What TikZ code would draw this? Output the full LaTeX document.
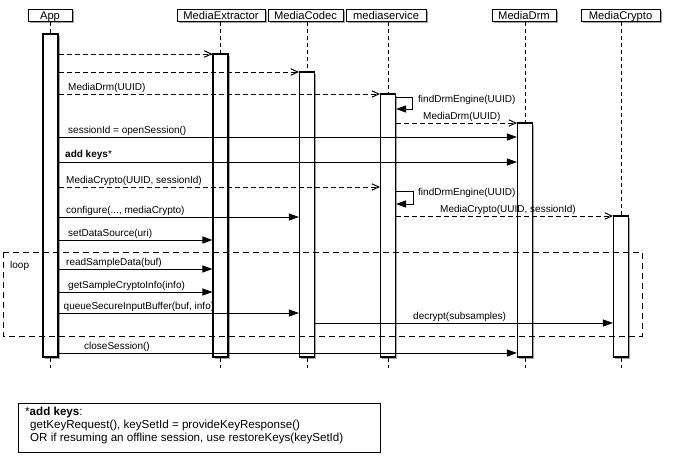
\documentclass[tikz,border=0pt]{standalone}
\usepackage{fontspec}
\setmainfont{Liberation Sans}
\usetikzlibrary{arrows.meta,shadows}
\begin{document}
\begin{tikzpicture}[x=1pt,y=-1pt,
  shade/.style={drop shadow={shadow xshift=1.8pt,shadow yshift=-1.8pt,opacity=0.35,fill=black}},
  hdr/.style={draw,line width=1pt,fill=white,inner sep=0pt,minimum height=12pt,
    text height=10pt,text depth=2pt,
    font=\fontsize{11.2}{12}\selectfont,shade},
  actbar/.style={draw,line width=1.1pt,fill=white,minimum width=15pt,inner sep=0pt,shade},
  life/.style={line width=1pt,dash pattern=on 4pt off 3pt},
  call/.style={line width=1pt,-{Triangle[length=10pt,width=7pt]}},
  ret/.style={line width=1pt,dash pattern=on 5pt off 3pt,-{Straight Barb[length=7pt,width=6.5pt]}},
  frame/.style={line width=1pt,dash pattern=on 6pt off 4pt},
  lbl/.style={font=\fontsize{10}{12}\selectfont,inner sep=0pt,anchor=base west},
  nlbl/.style={font=\fontsize{11.6}{13}\selectfont,inner sep=0pt,anchor=base west},
  notebox/.style={draw,line width=1pt,minimum width=362pt,minimum height=49pt,inner sep=0pt}
]
\useasboundingbox (0,0) rectangle (673,456);
% headers
\node[hdr,minimum width=44pt] (happ) at (50,15) {App};
\node[hdr,minimum width=88pt] (hext) at (221,15) {MediaExtractor};
\node[hdr,minimum width=75pt] (hcod) at (305.5,15) {MediaCodec};
\node[hdr,minimum width=80pt] (hsvc) at (386,15) {mediaservice};
\node[hdr,minimum width=64pt] (hdrm) at (524,15) {MediaDrm};
\node[hdr,minimum width=79pt] (hcry) at (620.5,15) {MediaCrypto};
% activation bar centres
\path (50.5,195.5) coordinate (capp) (220.5,205.5) coordinate (cext)
      (307,214.5) coordinate (ccod) (388,225.5) coordinate (csvc)
      (525,240) coordinate (cdrm) (621,286.5) coordinate (ccry);
% lifelines
\draw[life] (capp |- happ.south) -- (capp |- 0,368);
\draw[life] (cext |- hext.south) -- (cext |- 0,368);
\draw[life] (ccod |- hcod.south) -- (ccod |- 0,368);
\draw[life] (csvc |- hsvc.south) -- (csvc |- 0,368);
\draw[life] (cdrm |- hdrm.south) -- (cdrm |- 0,368);
\draw[life] (ccry |- hcry.south) -- (ccry |- 0,368);
% activation bars
\node[actbar,minimum height=323pt] (aapp) at (capp) {};
\node[actbar,minimum height=303pt] (aext) at (cext) {};
\node[actbar,minimum height=285pt] (acod) at (ccod) {};
\node[actbar,minimum height=263pt] (asvc) at (csvc) {};
\node[actbar,minimum height=234pt] (adrm) at (cdrm) {};
\node[actbar,minimum height=141pt] (acry) at (ccry) {};
% messages
\draw[ret] (aapp.east |- 0,54) -- (aext.west |- 0,54);
\draw[ret] (aapp.east |- 0,72) -- (acod.west |- 0,72);
\draw[ret] (aapp.east |- 0,94) -- (asvc.west |- 0,94);
\node[lbl] (m1) at (68,90.5) {MediaDrm(UUID)};
\draw[call] (asvc.east |- 0,97) -- ++(16,0) -- ++(0,12) -- (asvc.east |- 0,109);
\node[lbl] (m2) at (418,102) {findDrmEngine(UUID)};
\draw[ret] (asvc.east |- 0,123) -- (adrm.west |- 0,123);
\node[lbl] (m3) at (423,119.5) {MediaDrm(UUID)};
\draw[call] (aapp.east |- 0,137) -- (adrm.west |- 0,137);
\node[lbl] (m4) at (68,133) {sessionId = openSession()};
\draw[call] (aapp.east |- 0,162) -- (adrm.west |- 0,162);
\node[lbl] (m5) at (65,157.5) {\textbf{add keys}*};
\draw[ret] (aapp.east |- 0,187) -- (asvc.west |- 0,187);
\node[lbl] (m6) at (66,183.5) {MediaCrypto(UUID, sessionId)};
\draw[call] (asvc.east |- 0,191) -- ++(17,0) -- ++(0,13) -- (asvc.east |- 0,204);
\node[lbl] (m7) at (418,195) {findDrmEngine(UUID)};
\draw[ret] (asvc.east |- 0,216) -- (acry.west |- 0,216);
\node[lbl] (m8) at (440,212) {MediaCrypto(UUID, sessionId)};
\draw[call] (aapp.east |- 0,217) -- (acod.west |- 0,217);
\node[lbl] (m9) at (66,213) {configure(..., mediaCrypto)};
\draw[call] (aapp.east |- 0,240) -- (aext.west |- 0,240);
\node[lbl] (m10) at (68,236.5) {setDataSource(uri)};
% loop frame
\draw[frame] (3,252) rectangle (642,336);
\node[lbl] (loop) at (10,268) {loop};
\draw[call] (aapp.east |- 0,269) -- (aext.west |- 0,269);
\node[lbl] (m11) at (66,265.5) {readSampleData(buf)};
\draw[call] (aapp.east |- 0,292) -- (aext.west |- 0,292);
\node[lbl] (m12) at (68,288.5) {getSampleCryptoInfo(info)};
\draw[call] (aapp.east |- 0,313) -- (acod.west |- 0,313);
\node[lbl] (m13) at (63.5,309.5) {queueSecureInputBuffer(buf, info)};
\draw[call] (acod.east |- 0,323) -- (acry.west |- 0,323);
\node[lbl] (m14) at (413,319) {decrypt(subsamples)};
\draw[call] (aapp.east |- 0,353) -- (adrm.west |- 0,353);
\node[lbl] (m15) at (84,349.5) {closeSession()};
% note
\node[notebox] (note) at (199,427.5) {};
\node[nlbl] (n1) at (25,415) {*\textbf{add keys}:};
\node[nlbl] (n2) at (30,428) {getKeyRequest(), keySetId = provideKeyResponse()};
\node[nlbl] (n3) at (30,441) {OR if resuming an offline session, use restoreKeys(keySetId)};
\end{tikzpicture}
\end{document}
